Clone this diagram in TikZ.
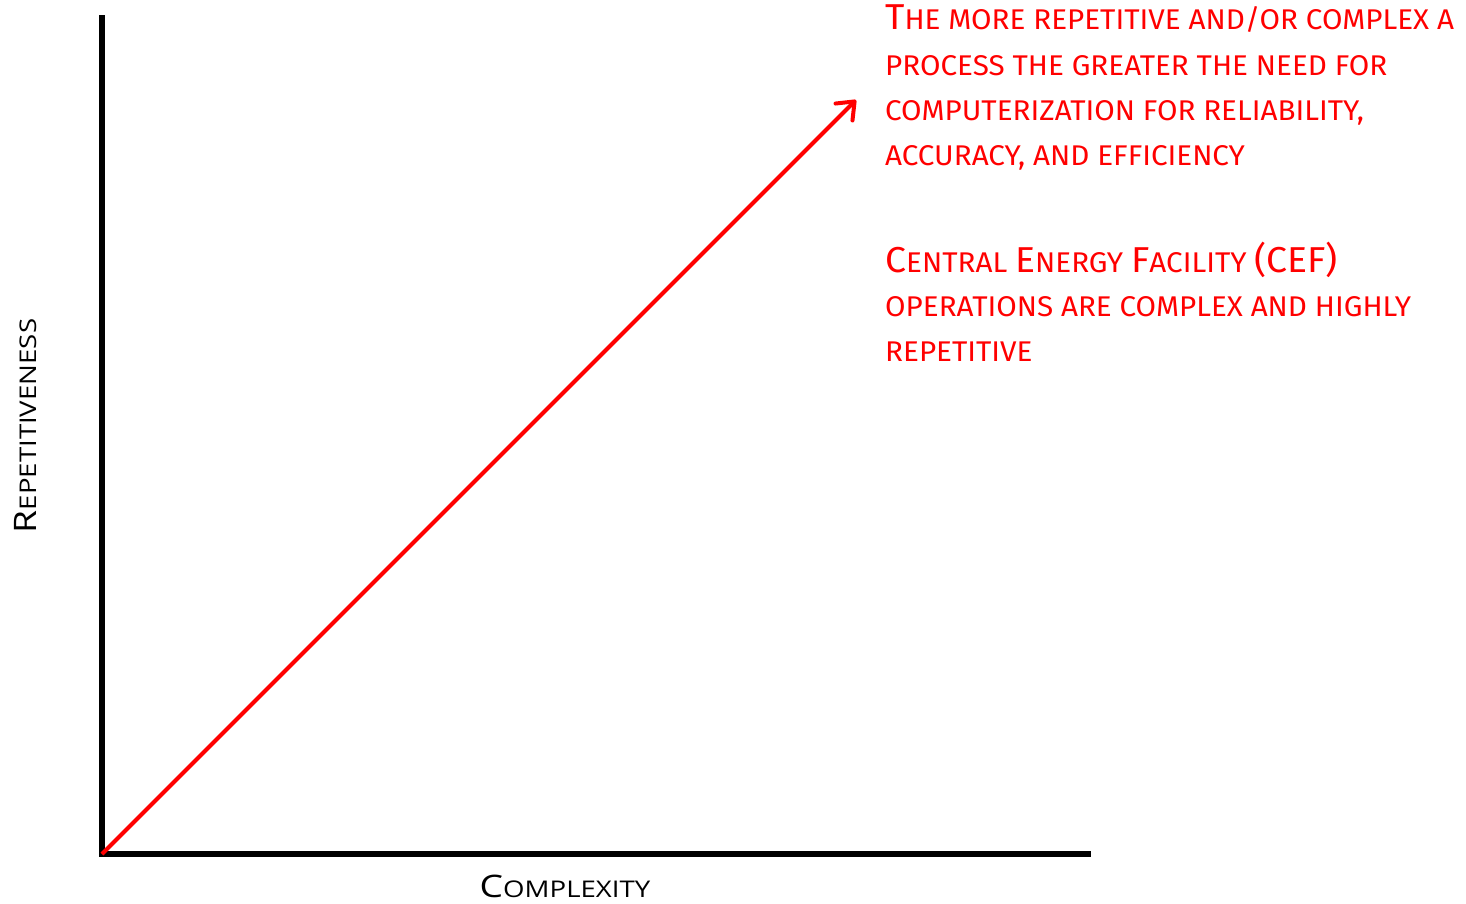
\documentclass[tikz,border=0pt]{standalone}
\usepackage{fontspec}
\setmainfont{Fira Sans}[FakeStretch=1.04]
\newfontfamily\labelfont{Open Sans}[FakeStretch=1.2]
\usetikzlibrary{arrows.meta}
% initial capital, set larger than the small-cap body letters
\newcommand\initcap[2]{{\fontsize{#1}{#1}\selectfont #2}}
\begin{document}
\begin{tikzpicture}[x=1pt,y=-1pt,
  axis/.style={line width=5.5pt},
  trend/.style={draw=red, line width=4pt, -{Straight Barb[length=15pt,width=24pt,round]}},
  note/.style={text=red, inner sep=0pt, anchor=base west, font=\fontsize{28.5}{30}\selectfont},
  axislabel/.style={inner sep=0pt, anchor=base, font=\labelfont\fontsize{23}{28}\selectfont},
]
\useasboundingbox (0,0) rectangle (1466,903);

% axes
\coordinate (O) at (102,854);
\coordinate (ytop) at (102,15);
\coordinate (xend) at (1091,854);
\draw[axis] (ytop) -- (O) -- (xend);

% trend arrow
\coordinate (tip) at (856,100);
\draw[trend] (O) -- (tip);

% axis labels
\node[axislabel] (xlab) at (565,897) {\initcap{31}{C}OMPLEXITY};
\node[axislabel, rotate=90] (ylab) at (36,426) {\initcap{31}{R}EPETITIVENESS};

% annotations
\node[note] (a1) at (885,29)  {\initcap{36}{T}HE MORE REPETITIVE AND/OR COMPLEX A};
\node[note] (a2) at (885,75)  {PROCESS THE GREATER THE NEED FOR};
\node[note] (a3) at (885,120) {COMPUTERIZATION FOR RELIABILITY,};
\node[note] (a4) at (885,165) {ACCURACY, AND EFFICIENCY};

\node[note] (b1) at (885,272) {\initcap{36}{C}ENTRAL \initcap{36}{E}NERGY \initcap{36}{F}ACILITY \initcap{36}{(CEF)}};
\node[note] (b2) at (885,316) {OPERATIONS ARE COMPLEX AND HIGHLY};
\node[note] (b3) at (885,361) {REPETITIVE};
\end{tikzpicture}
\end{document}
